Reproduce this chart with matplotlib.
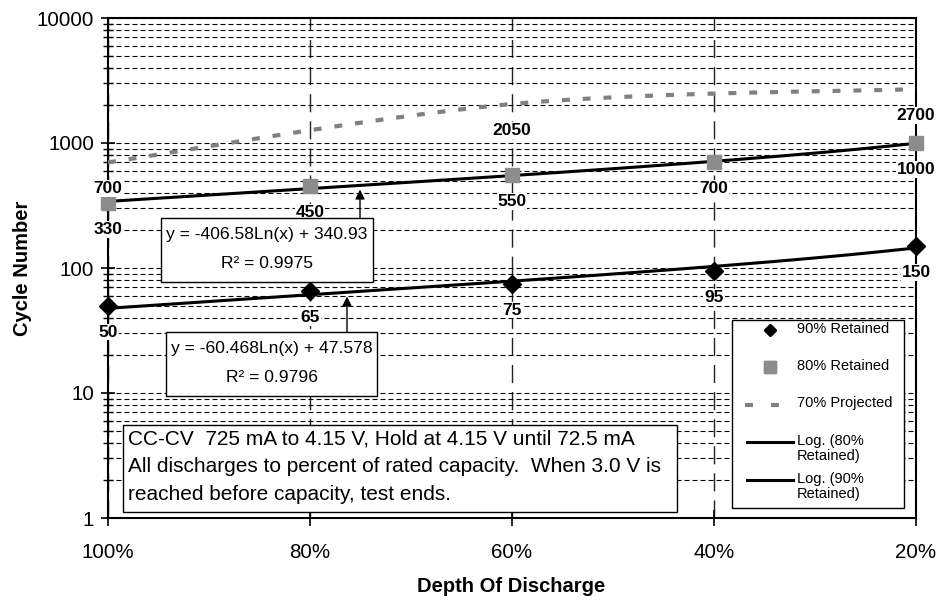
import numpy as np
import matplotlib
matplotlib.use("Agg")
import matplotlib.pyplot as plt
from matplotlib.lines import Line2D
from matplotlib.patches import Rectangle
from matplotlib.ticker import LogLocator, NullFormatter, FuncFormatter

plt.rcParams['font.family'] = ['Liberation Sans', 'DejaVu Sans']

# depth of discharge, left to right
dod_labels = ["100%", "80%", "60%", "40%", "20%"]
dod_frac = [1.0, 0.8, 0.6, 0.4, 0.2]

# cycle counts until capacity falls to the given retention
retained_90 = [50, 65, 75, 95, 150]
retained_80 = [330, 450, 550, 700, 1000]
proj_dod = [1.0, 0.6, 0.2]
projected_70 = [700, 2050, 2700]

# log trendlines: y = a*ln(x) + b, with R^2
fit_80 = (-406.58, 340.93, 0.9975)
fit_90 = (-60.468, 47.578, 0.9796)

note_lines = [
    "CC-CV  725 mA to 4.15 V, Hold at 4.15 V until 72.5 mA",
    "All discharges to percent of rated capacity.  When 3.0 V is",
    "reached before capacity, test ends.",
]

legend_labels = ['90% Retained', '80% Retained', '70% Projected',
                 'Log. (80%\nRetained)', 'Log. (90%\nRetained)']

W, H = 936, 600


def pos(frac):
    # category position: 100% -> 0 ... 20% -> 4
    return (1.0 - np.asarray(frac)) / 0.2


def fx(x):
    return x / W


def fy(y):
    return 1 - y / H


def smooth(xs, ys, n=40):
    # bezier smoothed line through the points (in log space)
    p = np.column_stack([xs, np.log10(ys)])
    ext = np.vstack([p[0], p, p[-1]])
    t = np.linspace(0, 1, n)[:, None]
    segs = []
    for i in range(len(p) - 1):
        p0, p1 = ext[i + 1], ext[i + 2]
        c1 = p0 + (ext[i + 2] - ext[i]) / 6
        c2 = p1 - (ext[i + 3] - ext[i + 1]) / 6
        segs.append((1 - t) ** 3 * p0 + 3 * (1 - t) ** 2 * t * c1
                    + 3 * (1 - t) * t ** 2 * c2 + t ** 3 * p1)
    out = np.vstack(segs)
    return out[:, 0], 10 ** out[:, 1]


def trend(fit, x):
    return fit[0] * np.log(x) + fit[1]


def box(x0, y0, x1, y1):
    r = Rectangle((fx(x0), fy(y1)), (x1 - x0) / W, (y1 - y0) / H,
                  transform=fig.transFigure, fc='white', ec='black',
                  lw=1.0, zorder=10)
    fig.add_artist(r)


def fig_line(x0, x1, y, **kw):
    ln = Line2D([fx(x0), fx(x1)], [fy(y), fy(y)], transform=fig.transFigure,
                zorder=12, **kw)
    fig.add_artist(ln)


fig = plt.figure(figsize=(W / 100, H / 100), dpi=100)
ax = fig.add_axes([fx(108), fy(518), 808 / W, 500 / H])
ax.set_yscale('log')
ax.set_ylim(1, 10000)
ax.set_xlim(0, 4)

ax.yaxis.set_major_locator(LogLocator(base=10))
ax.yaxis.set_minor_locator(LogLocator(base=10, subs=np.arange(2, 10)))
ax.yaxis.set_minor_formatter(NullFormatter())
ax.yaxis.set_major_formatter(FuncFormatter(lambda v, _: f"{v:g}"))
ax.set_xticks(range(5))
ax.set_xticklabels(dod_labels)

ax.grid(True, which='both', axis='y', color='black', lw=0.8,
        linestyle=(0, (4.5, 2.7)), zorder=0)
ax.grid(True, which='major', axis='x', color='#222222', lw=1.0,
        linestyle=(0, (13, 6.5)), zorder=0)
ax.set_axisbelow(True)

ax.tick_params(axis='y', which='major', direction='inout', length=10,
               width=1.2, labelsize=14.8, pad=5)
ax.tick_params(axis='y', which='minor', direction='inout', length=7, width=1)
ax.tick_params(axis='x', direction='inout', length=12, width=1.2,
               labelsize=14.8, pad=12)
for s in ax.spines.values():
    s.set_linewidth(1.5)

# projected 70% curve
xs, ys = smooth(pos(proj_dod), projected_70)
ax.plot(xs, ys, color='#808080', lw=3, dashes=(1.9, 3.1), zorder=3)

# log trendlines
t = np.linspace(1.0, 0.2, 200)
ax.plot(pos(t), trend(fit_80, t), color='black', lw=2.2, zorder=4)
ax.plot(pos(t), trend(fit_90, t), color='black', lw=2.2, zorder=4)

ax.plot(pos(dod_frac), retained_80, ls='none', marker='s', ms=10,
        color='#8c8c8c', zorder=5, clip_on=False)
ax.plot(pos(dod_frac), retained_90, ls='none', marker='D', ms=9,
        color='black', zorder=5, clip_on=False)


def label_points(xp, vals):
    for x, v in zip(xp, vals):
        ax.annotate(f"{v}", (x, v), xytext=(0, -19), textcoords='offset points',
                    ha='center', va='center', fontsize=12.5, fontweight='bold',
                    bbox=dict(boxstyle='square,pad=0.05', fc='white', ec='none'),
                    zorder=6)


label_points(pos(dod_frac), retained_90)
label_points(pos(dod_frac), retained_80)
label_points(pos(proj_dod), projected_70)

# trendline equation boxes with arrows
for fit, (x0, y0, x1, y1), ax_px in ((fit_80, (161, 218, 373, 282), 360),
                                      (fit_90, (166, 332, 377, 396), 347)):
    box(x0, y0, x1, y1)
    cx = (x0 + x1) / 2
    fig.text(fx(cx), fy(y0 + 16), f"y = {fit[0]:g}Ln(x) + {fit[1]:g}",
             ha='center', va='center', fontsize=12.6, zorder=11)
    fig.text(fx(cx), fy(y0 + 45), f"R² = {fit[2]:.4f}",
             ha='center', va='center', fontsize=12.6, zorder=11)
    xp = (ax_px - 108) / 202
    xv = 1 - xp * 0.2
    ax.annotate('', xy=(xp, trend(fit, xv)), xycoords='data',
                xytext=(ax_px, H - y0), textcoords='figure pixels',
                arrowprops=dict(arrowstyle='-|>', color='black', lw=1,
                                mutation_scale=14, shrinkA=0, shrinkB=3))

# test conditions note
box(123, 425, 677, 512)
for i, line in enumerate(note_lines):
    fig.text(fx(128), fy(439 + 27.5 * i), line, ha='left', va='center',
             fontsize=15, zorder=11)

# legend, laid out by hand
box(732, 320, 904, 508)
row_y = [330, 367, 405, 442, 480]
fig_line(770, 770, row_y[0], ls='none', marker='D', ms=6, color='black')
fig_line(770, 770, row_y[1], ls='none', marker='s', ms=8.4, color='#8c8c8c')
fig_line(745, 780, row_y[2], color='#808080', lw=3, dashes=(1.92, 4.3))
fig_line(747, 793, row_y[3], color='black', lw=2.2)
fig_line(747, 793, row_y[4], color='black', lw=2.2)
for y, lab in zip(row_y, legend_labels):
    fig.text(fx(797), fy(y - 8.5), lab, ha='left', va='top',
             fontsize=10.5, linespacing=1.15, zorder=13)

fig.text(fx(23), fy(268), "Cycle Number", rotation=90, ha='center',
         va='center', fontsize=14.5, fontweight='bold')
fig.text(fx(511), fy(587), "Depth Of Discharge", ha='center', va='center',
         fontsize=14.5, fontweight='bold')

fig.savefig("out.png", dpi=100)
